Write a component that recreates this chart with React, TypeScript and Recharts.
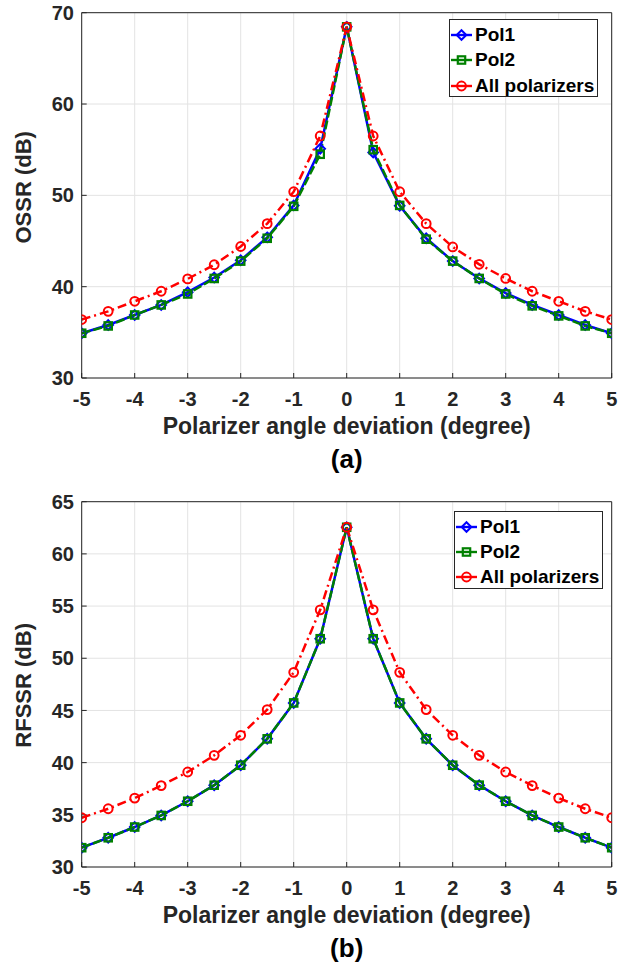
import React from 'react';
import { LineChart, Line, XAxis, YAxis, CartesianGrid, Legend, Label } from 'recharts';

const angles = [-5, -4.5, -4, -3.5, -3, -2.5, -2, -1.5, -1, -0.5, 0, 0.5, 1, 1.5, 2, 2.5, 3, 3.5, 4, 4.5, 5];
const xTicks = [-5, -4, -3, -2, -1, 0, 1, 2, 3, 4, 5];

const ossrPol1 = [34.9, 35.8, 36.9, 38.0, 39.4, 41.0, 42.9, 45.4, 48.9, 55.1, 68.45, 54.7, 48.85, 45.3, 42.8, 40.9, 39.3, 38.0, 36.9, 35.8, 34.9];
const ossrPol2 = [34.9, 35.7, 36.9, 38.0, 39.2, 40.9, 42.8, 45.3, 48.8, 54.5, 68.45, 55.0, 48.9, 45.2, 42.8, 40.9, 39.2, 37.9, 36.8, 35.7, 34.9];
const ossrAll = [36.4, 37.3, 38.4, 39.5, 40.85, 42.4, 44.4, 46.9, 50.4, 56.5, 68.45, 56.5, 50.4, 46.9, 44.35, 42.45, 40.9, 39.5, 38.4, 37.3, 36.4];
const ossrTicks = [30, 40, 50, 60, 70];

const rfssrPol1 = [31.85, 32.8, 33.83, 34.94, 36.3, 37.84, 39.75, 42.28, 45.72, 51.87, 62.55, 51.87, 45.72, 42.28, 39.75, 37.84, 36.3, 34.94, 33.83, 32.8, 31.85];
const rfssrPol2 = [31.85, 32.8, 33.83, 34.94, 36.3, 37.84, 39.75, 42.28, 45.72, 51.87, 62.55, 51.87, 45.72, 42.28, 39.75, 37.84, 36.3, 34.94, 33.83, 32.8, 31.85];
const rfssrAll = [34.72, 35.58, 36.6, 37.8, 39.1, 40.7, 42.62, 45.08, 48.65, 54.64, 62.55, 54.64, 48.65, 45.08, 42.62, 40.7, 39.1, 37.8, 36.6, 35.58, 34.72];
const rfssrTicks = [30, 35, 40, 45, 50, 55, 60, 65];

const seriesNames = ['Pol1', 'Pol2', 'All polarizers'];
const seriesColors = ['#0000ff', '#008000', '#ff0000'];
const seriesDash = [undefined, '9 3', '9 4 2 4'];

const FONT = "'Liberation Sans', Arial, Helvetica, sans-serif";
const AX = '#262626';

function marker(kind: number, cx: number, cy: number, key?: any) {
  const c = seriesColors[kind];
  if (kind === 0) {
    const s = 4.8;
    return <path key={key} d={`M${cx},${cy - s}L${cx + s},${cy}L${cx},${cy + s}L${cx - s},${cy}Z`} fill="none" stroke={c} strokeWidth={2} />;
  }
  if (kind === 1) {
    const s = 3.7;
    return <rect key={key} x={cx - s} y={cy - s} width={2 * s} height={2 * s} fill="none" stroke={c} strokeWidth={2.2} />;
  }
  return <circle key={key} cx={cx} cy={cy} r={4.4} fill="none" stroke={c} strokeWidth={2} />;
}

const makeDot = (kind: number) => (props: any) => {
  const { cx, cy, index } = props;
  if (cx == null || cy == null) return <g key={`d${kind}-${index}`} />;
  return marker(kind, cx, cy, `d${kind}-${index}`);
};

const LegendBox = () => (
  <div style={{ position: 'relative', width: 147, height: 76, border: `1px solid ${AX}`, background: '#fff', fontFamily: FONT, fontWeight: 'bold', fontSize: 19, color: '#000' }}>
    {seriesNames.map((n, i) => (
      <div key={n} style={{ position: 'absolute', left: 0, top: 15 + i * 25.3 - 12, height: 24, display: 'flex', alignItems: 'center', whiteSpace: 'nowrap' }}>
        <svg width={24} height={14} style={{ display: 'block' }}>
          <line x1={1} y1={7} x2={22} y2={7} stroke={seriesColors[i]} strokeWidth={2.4} />
          {marker(i, 11.5, 7)}
        </svg>
        <span style={{ marginLeft: 1 }}>{n}</span>
      </div>
    ))}
  </div>
);

type PanelProps = {
  p1: number[];
  p2: number[];
  all: number[];
  yTicks: number[];
  yLabel: string;
  tag: string;
  height: number;
  legendLeft: number;
  legendTop: number;
  yLabelShift: number;
};

const Y_W = 60;
const X_H = 30;

function Panel({ p1, p2, all, yTicks, yLabel, tag, height, legendLeft, legendTop, yLabelShift }: PanelProps) {
  const data = angles.map((x, i) => ({ x, pol1: p1[i], pol2: p2[i], all: all[i] }));
  const yDomain = [yTicks[0], yTicks[yTicks.length - 1]];
  const tickStyle = { fontSize: 20, fontWeight: 'bold', fill: AX, fontFamily: FONT };
  const plotTop = 12.7;
  const plotBottom = 378;
  return (
    <LineChart width={620} height={height} data={data}
      margin={{ top: plotTop - 1, right: 8.3 - 1, bottom: height - plotBottom - X_H, left: 81.7 - Y_W }}>
      <CartesianGrid xAxisId="b" yAxisId="l" stroke="#e3e3e3" strokeWidth={1} />
      <XAxis xAxisId="b" dataKey="x" type="number" domain={[-5, 5]} ticks={xTicks} interval={0} height={X_H}
        tickSize={-5} tickMargin={18.8} tick={tickStyle} stroke={AX} allowDataOverflow>
        <Label content={(props: any) => {
          const vb = props.viewBox;
          return <text x={vb.x + vb.width / 2} y={vb.y + 55.5} textAnchor="middle" fontFamily={FONT} fontWeight="bold" fontSize={23} fill={AX}>Polarizer angle deviation (degree)</text>;
        }} />
        <Label content={(props: any) => {
          const vb = props.viewBox;
          return <text x={vb.x + vb.width / 2} y={vb.y + 90} textAnchor="middle" fontFamily={FONT} fontWeight="bold" fontSize={26} fill="#000">{tag}</text>;
        }} />
      </XAxis>
      <XAxis xAxisId="t" orientation="top" dataKey="x" type="number" domain={[-5, 5]} ticks={xTicks} interval={0} height={1}
        tickSize={-5} tick={false} stroke={AX} allowDataOverflow />
      <YAxis yAxisId="l" type="number" domain={yDomain} ticks={yTicks} interval={0} width={Y_W}
        tickSize={-5} tickMargin={12.7} tick={tickStyle} stroke={AX} allowDataOverflow>
        <Label content={(props: any) => {
          const vb = props.viewBox;
          const cx = 31;
          const cy = vb.y + vb.height / 2 + yLabelShift;
          return <text x={cx} y={cy} transform={`rotate(-90, ${cx}, ${cy})`} textAnchor="middle" fontFamily={FONT} fontWeight="bold" fontSize={22} fill={AX}>{yLabel}</text>;
        }} />
      </YAxis>
      <YAxis yAxisId="r" orientation="right" type="number" domain={yDomain} ticks={yTicks} interval={0} width={1}
        tickSize={-5} tick={false} stroke={AX} allowDataOverflow />
      <Legend layout="horizontal" verticalAlign="middle" align="center" content={() => <LegendBox />}
        wrapperStyle={{ position: 'absolute', left: legendLeft, top: legendTop, width: 149, height: 78 }} />
      {['pol1', 'pol2', 'all'].map((k, i) => (
        <Line key={k} xAxisId="b" yAxisId="l" type="linear" dataKey={k} name={seriesNames[i]} stroke={seriesColors[i]}
          strokeWidth={2.5} strokeDasharray={seriesDash[i]} dot={makeDot(i)} activeDot={false} isAnimationActive={false} />
      ))}
    </LineChart>
  );
}

export default function App() {
  return (
    <div style={{ position: 'absolute', left: 0, top: 0, width: 620, height: 967, background: '#fff', overflow: 'hidden' }}>
      <div style={{ position: 'absolute', left: 0, top: 0 }}>
        <Panel p1={ossrPol1} p2={ossrPol2} all={ossrAll} yTicks={ossrTicks} yLabel="OSSR (dB)" tag="(a)"
          height={490} legendLeft={449} legendTop={19} yLabelShift={-8} />
      </div>
      <div style={{ position: 'absolute', left: 0, top: 489 }}>
        <Panel p1={rfssrPol1} p2={rfssrPol2} all={rfssrAll} yTicks={rfssrTicks} yLabel="RFSSR (dB)" tag="(b)"
          height={478} legendLeft={454} legendTop={21.7} yLabelShift={1} />
      </div>
    </div>
  );
}
